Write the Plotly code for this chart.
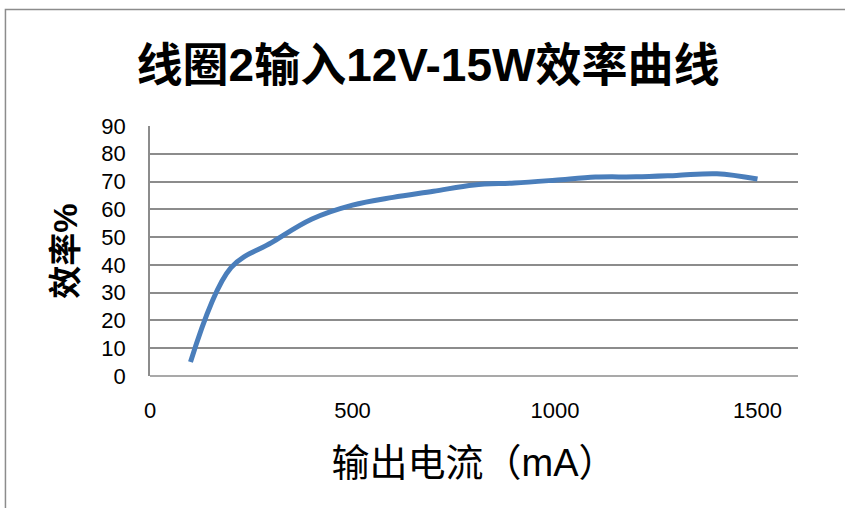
import plotly.graph_objects as go

current_ma = [100, 200, 300, 400, 500, 600, 700, 800, 900, 1000, 1100, 1200, 1300, 1400, 1500]
efficiency = [5, 39, 48, 56.5, 61.5, 64.3, 66.5, 68.8, 69.5, 70.5, 71.6, 71.7, 72.2, 72.8, 70.9]

title_text = "线圈2输入12V-15W效率曲线"
x_title = "输出电流（mA）"
y_title = "效率%"

fig = go.Figure()
fig.add_trace(go.Scatter(
    x=current_ma, y=efficiency, mode="lines",
    line=dict(color="#4A7EBB", width=5, shape="spline", smoothing=1.0),
    showlegend=False, hoverinfo="skip",
))

font_cjk = "Liberation Sans, Noto Sans CJK SC, sans-serif"

fig.update_layout(
    width=845, height=508,
    margin=dict(l=150, r=47, t=126, b=132),
    paper_bgcolor="white", plot_bgcolor="white",
    title=dict(text="<b>" + title_text + "</b>", x=428 / 845, xanchor="center",
               y=1 - 65 / 508, yanchor="middle",
               font=dict(family=font_cjk, size=46, color="black")),
    font=dict(family=font_cjk, color="black"),
    shapes=[dict(type="rect", xref="paper", yref="paper",
                 x0=-145 / 650, x1=1.2, y0=-1.0, y1=(376 - 9.5) / 250,
                 line=dict(color="#8C8C8C", width=1.5), fillcolor="rgba(0,0,0,0)",
                 layer="below")],
)
fig.update_xaxes(
    range=[0, 1600], tickvals=[0, 500, 1000, 1500], showgrid=False,
    zeroline=False, showline=False, ticks="",
    tickfont=dict(size=22, color="black"), ticklabelstandoff=19,
    title=dict(text=x_title, font=dict(size=38, color="black"), standoff=27),
)
fig.update_yaxes(
    range=[0, 90], dtick=10, showgrid=True, gridcolor="#8C8C8C", gridwidth=1.5,
    zeroline=False, showline=True, linecolor="#8C8C8C", linewidth=1.5, ticks="",
    tickfont=dict(size=22, color="black"), ticklabelstandoff=18,
    title=dict(text="<b>" + y_title + "</b>", font=dict(size=33, color="black"), standoff=14),
)
fig.add_shape(type="line", xref="paper", yref="paper", x0=0, x1=1, y0=0, y1=0,
              line=dict(color="#8C8C8C", width=1.5), layer="below")
fig.write_html("out.html", config={"displayModeBar": False},
               post_script="document.body.style.margin='0';")
